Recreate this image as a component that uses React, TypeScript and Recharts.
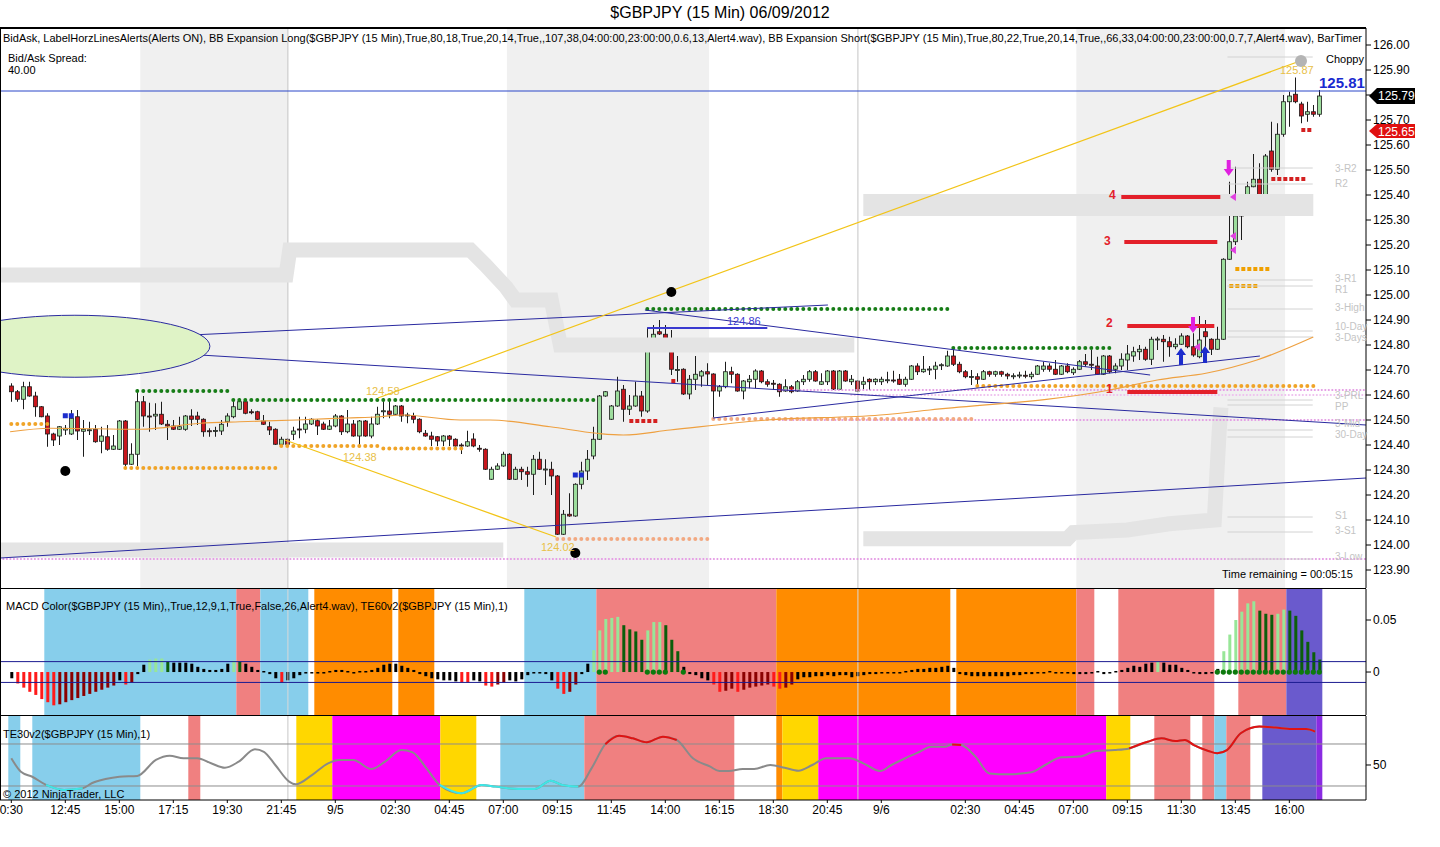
import React from "react";
import {
  ComposedChart,
  Bar,
  Line,
  Scatter,
  XAxis,
  YAxis,
  ReferenceArea,
  ReferenceLine,
} from "recharts";

const FONT = '"Liberation Sans", Arial, Helvetica, sans-serif';
const X_DOMAIN: [number, number] = [-1.883, 225.78];

// 15 min OHLC, one entry per bar (index = bar position)
const opens = [
  124.636, 124.613, 124.583, 124.633, 124.596, 124.553, 124.516, 124.444, 124.436, 124.46,
  124.444, 124.513, 124.455, 124.46, 124.463, 124.415, 124.433, 124.383, 124.383, 124.496,
  124.323, 124.363, 124.573, 124.516, 124.516, 124.523, 124.483, 124.476, 124.463, 124.463,
  124.516, 124.516, 124.503, 124.457, 124.457, 124.456, 124.493, 124.513, 124.543, 124.573,
  124.533, 124.533, 124.496, 124.473, 124.463, 124.403, 124.423, 124.443, 124.464, 124.463,
  124.484, 124.497, 124.484, 124.463, 124.476, 124.516, 124.453, 124.484, 124.436, 124.496,
  124.436, 124.484, 124.536, 124.536, 124.523, 124.556, 124.52, 124.516, 124.503, 124.447,
  124.436, 124.433, 124.416, 124.436, 124.423, 124.4, 124.396, 124.424, 124.387, 124.383,
  124.263, 124.303, 124.316, 124.363, 124.263, 124.303, 124.293, 124.283, 124.343, 124.303,
  124.303, 124.276, 124.043, 124.123, 124.116, 124.243, 124.296, 124.356, 124.423, 124.596,
  124.503, 124.556, 124.623, 124.543, 124.556, 124.596, 124.536, 124.823, 124.853, 124.843,
  124.823, 124.7, 124.703, 124.604, 124.663, 124.676, 124.693, 124.684, 124.616, 124.633,
  124.693, 124.683, 124.616, 124.653, 124.663, 124.696, 124.653, 124.647, 124.643, 124.616,
  124.633, 124.616, 124.653, 124.663, 124.693, 124.643, 124.653, 124.696, 124.623, 124.696,
  124.653, 124.656, 124.643, 124.663, 124.653, 124.653, 124.66, 124.66, 124.663, 124.643,
  124.663, 124.716, 124.693, 124.703, 124.703, 124.72, 124.716, 124.756, 124.723, 124.693,
  124.673, 124.673, 124.663, 124.693, 124.683, 124.693, 124.683, 124.676, 124.679, 124.679,
  124.673, 124.683, 124.703, 124.716, 124.703, 124.683, 124.716, 124.689, 124.703, 124.733,
  124.723, 124.716, 124.683, 124.756, 124.703, 124.716, 124.74, 124.756, 124.773, 124.783,
  124.743, 124.823, 124.823, 124.813, 124.793, 124.803, 124.836, 124.793, 124.753, 124.853,
  124.823, 124.783, 124.823, 125.143, 125.213, 125.316, 125.343, 125.433, 125.463, 125.373,
  125.576, 125.503, 125.643, 125.773, 125.803, 125.764, 125.723, 125.733, 125.723,
];
const highs = [
  124.647, 124.62, 124.653, 124.653, 124.613, 124.556, 124.527, 124.449, 124.476, 124.48,
  124.54, 124.54, 124.5, 124.493, 124.48, 124.473, 124.48, 124.44, 124.5, 124.5,
  124.407, 124.623, 124.596, 124.569, 124.567, 124.573, 124.5, 124.5, 124.513, 124.52,
  124.543, 124.533, 124.507, 124.467, 124.473, 124.5, 124.527, 124.583, 124.587, 124.58,
  124.543, 124.537, 124.52, 124.493, 124.467, 124.433, 124.427, 124.473, 124.513, 124.513,
  124.507, 124.503, 124.493, 124.5, 124.524, 124.52, 124.54, 124.5, 124.5, 124.5,
  124.513, 124.553, 124.587, 124.587, 124.56, 124.56, 124.529, 124.529, 124.507, 124.46,
  124.453, 124.436, 124.44, 124.44, 124.427, 124.407, 124.457, 124.447, 124.4, 124.387,
  124.313, 124.327, 124.373, 124.367, 124.313, 124.313, 124.313, 124.36, 124.373, 124.343,
  124.333, 124.28, 124.14, 124.207, 124.247, 124.333, 124.38, 124.473, 124.6, 124.616,
  124.56, 124.673, 124.64, 124.6, 124.653, 124.616, 124.87, 124.88, 124.9, 124.88,
  124.86, 124.756, 124.707, 124.68, 124.756, 124.7, 124.727, 124.687, 124.64, 124.733,
  124.713, 124.687, 124.66, 124.68, 124.703, 124.7, 124.663, 124.66, 124.647, 124.663,
  124.64, 124.66, 124.68, 124.7, 124.7, 124.687, 124.7, 124.7, 124.7, 124.7,
  124.68, 124.66, 124.673, 124.667, 124.667, 124.673, 124.693, 124.697, 124.684, 124.673,
  124.72, 124.727, 124.756, 124.716, 124.733, 124.727, 124.777, 124.787, 124.733, 124.7,
  124.7, 124.687, 124.7, 124.697, 124.697, 124.697, 124.689, 124.687, 124.693, 124.697,
  124.693, 124.72, 124.733, 124.727, 124.74, 124.72, 124.727, 124.711, 124.74, 124.764,
  124.78, 124.753, 124.76, 124.76, 124.727, 124.767, 124.8, 124.793, 124.8, 124.793,
  124.833, 124.833, 124.84, 124.833, 124.827, 124.847, 124.84, 124.847, 124.916, 124.9,
  124.827, 124.873, 125.147, 125.453, 125.513, 125.373, 125.453, 125.564, 125.527, 125.564,
  125.693, 125.687, 125.8, 125.813, 125.87, 125.773, 125.773, 125.76, 125.82,
];
const lows = [
  124.573, 124.573, 124.543, 124.593, 124.513, 124.511, 124.393, 124.396, 124.4, 124.44,
  124.44, 124.42, 124.353, 124.44, 124.409, 124.367, 124.377, 124.38, 124.38, 124.313,
  124.32, 124.316, 124.473, 124.453, 124.46, 124.48, 124.42, 124.46, 124.46, 124.457,
  124.476, 124.48, 124.433, 124.433, 124.433, 124.44, 124.473, 124.507, 124.54, 124.523,
  124.523, 124.5, 124.48, 124.44, 124.4, 124.4, 124.4, 124.42, 124.427, 124.447,
  124.48, 124.44, 124.46, 124.46, 124.471, 124.44, 124.447, 124.433, 124.393, 124.433,
  124.427, 124.48, 124.507, 124.507, 124.52, 124.493, 124.487, 124.487, 124.447, 124.433,
  124.396, 124.396, 124.396, 124.396, 124.393, 124.364, 124.393, 124.391, 124.373, 124.3,
  124.26, 124.3, 124.313, 124.26, 124.26, 124.26, 124.233, 124.2, 124.3, 124.24,
  124.2, 124.04, 124.04, 124.113, 124.113, 124.223, 124.26, 124.343, 124.42, 124.593,
  124.5, 124.553, 124.493, 124.52, 124.553, 124.513, 124.529, 124.78, 124.84, 124.82,
  124.68, 124.653, 124.6, 124.583, 124.62, 124.633, 124.64, 124.507, 124.593, 124.627,
  124.647, 124.613, 124.583, 124.627, 124.627, 124.647, 124.633, 124.62, 124.593, 124.613,
  124.607, 124.613, 124.64, 124.653, 124.653, 124.64, 124.64, 124.62, 124.62, 124.653,
  124.64, 124.613, 124.62, 124.62, 124.64, 124.64, 124.647, 124.649, 124.64, 124.633,
  124.66, 124.68, 124.689, 124.68, 124.663, 124.7, 124.713, 124.716, 124.687, 124.667,
  124.64, 124.64, 124.66, 124.673, 124.673, 124.673, 124.663, 124.663, 124.667, 124.667,
  124.663, 124.68, 124.693, 124.693, 124.68, 124.68, 124.687, 124.68, 124.7, 124.713,
  124.7, 124.68, 124.68, 124.687, 124.687, 124.7, 124.7, 124.733, 124.74, 124.737,
  124.72, 124.78, 124.733, 124.753, 124.783, 124.8, 124.787, 124.753, 124.747, 124.793,
  124.76, 124.78, 124.82, 125.14, 125.2, 125.22, 125.34, 125.431, 125.36, 125.333,
  125.493, 125.48, 125.633, 125.673, 125.767, 125.687, 125.693, 125.713, 125.713,
];
const closes = [
  124.613, 124.583, 124.633, 124.596, 124.553, 124.513, 124.444, 124.42, 124.473, 124.467,
  124.507, 124.456, 124.463, 124.461, 124.413, 124.436, 124.383, 124.396, 124.496, 124.323,
  124.363, 124.573, 124.516, 124.515, 124.523, 124.484, 124.476, 124.463, 124.473, 124.516,
  124.503, 124.503, 124.453, 124.456, 124.458, 124.483, 124.516, 124.553, 124.573, 124.527,
  124.532, 124.503, 124.483, 124.46, 124.403, 124.423, 124.403, 124.456, 124.463, 124.484,
  124.503, 124.476, 124.463, 124.476, 124.516, 124.453, 124.484, 124.436, 124.496, 124.436,
  124.484, 124.523, 124.537, 124.523, 124.556, 124.516, 124.516, 124.503, 124.453, 124.436,
  124.423, 124.416, 124.436, 124.423, 124.396, 124.399, 124.413, 124.396, 124.386, 124.303,
  124.303, 124.316, 124.363, 124.263, 124.303, 124.293, 124.283, 124.343, 124.303, 124.304,
  124.276, 124.043, 124.123, 124.116, 124.243, 124.296, 124.343, 124.423, 124.596, 124.613,
  124.556, 124.616, 124.543, 124.556, 124.596, 124.536, 124.823, 124.843, 124.844, 124.823,
  124.703, 124.702, 124.604, 124.663, 124.683, 124.693, 124.684, 124.616, 124.633, 124.693,
  124.683, 124.616, 124.656, 124.663, 124.696, 124.653, 124.643, 124.646, 124.613, 124.633,
  124.613, 124.653, 124.663, 124.693, 124.656, 124.653, 124.696, 124.623, 124.696, 124.656,
  124.663, 124.616, 124.653, 124.653, 124.663, 124.663, 124.661, 124.659, 124.643, 124.663,
  124.716, 124.693, 124.703, 124.704, 124.716, 124.721, 124.756, 124.723, 124.693, 124.673,
  124.674, 124.663, 124.693, 124.683, 124.693, 124.683, 124.676, 124.677, 124.68, 124.678,
  124.683, 124.716, 124.716, 124.703, 124.683, 124.716, 124.693, 124.703, 124.733, 124.723,
  124.72, 124.683, 124.756, 124.693, 124.716, 124.743, 124.764, 124.773, 124.783, 124.743,
  124.823, 124.824, 124.813, 124.793, 124.803, 124.836, 124.793, 124.76, 124.82, 124.833,
  124.783, 124.823, 125.143, 125.213, 125.316, 125.343, 125.433, 125.463, 125.383, 125.556,
  125.503, 125.643, 125.773, 125.796, 125.773, 125.716, 125.733, 125.723, 125.796,
];

// MACD histogram per bar
const macd = [
  -0.006, -0.011, -0.015, -0.019, -0.022, -0.026, -0.029, -0.032, -0.031, -0.029,
  -0.027, -0.025, -0.023, -0.021, -0.019, -0.017, -0.015, -0.013, -0.008, -0.012,
  -0.01, -0.002, 0.007, 0.012, 0.013, 0.013, 0.01, 0.009, 0.009, 0.009,
  0.008, 0.005, 0.003, 0.002, 0.002, 0.003, 0.008, 0.011, 0.01, 0.008,
  0.005, 0.002, 0.001, -0.002, -0.006, -0.01, -0.008, -0.006, -0.003, -0.001,
  -0.001, -0.001, -0.001, 0.001, 0.002, 0.002, 0.001, -0.001, 0.001, 0.001,
  0.002, 0.004, 0.007, 0.008, 0.008, 0.006, 0.004, 0.002, -0.002, -0.004,
  -0.006, -0.007, -0.008, -0.008, -0.009, -0.01, -0.01, -0.008, -0.009, -0.013,
  -0.014, -0.012, -0.01, -0.008, -0.009, -0.007, -0.003, -0.001, -0.001, -0.002,
  -0.008, -0.016, -0.021, -0.019, -0.012, -0.002, 0.008, 0.021, 0.04, 0.051,
  0.052, 0.053, 0.045, 0.041, 0.039, 0.031, 0.04, 0.048, 0.048, 0.045,
  0.031, 0.02, 0.005, -0.002, -0.003, -0.006, -0.008, -0.012, -0.019, -0.018,
  -0.016, -0.019, -0.017, -0.015, -0.014, -0.013, -0.012, -0.014, -0.016, -0.015,
  -0.012, -0.007, -0.005, -0.005, -0.004, -0.004, -0.003, -0.004, -0.003, -0.003,
  -0.005, -0.004, -0.003, -0.002, -0.002, -0.001, -0.001, -0.001, -0.001, 0.001,
  0.002, 0.003, 0.003, 0.004, 0.004, 0.005, 0.006, 0.004, -0.002, -0.003,
  -0.004, -0.004, -0.004, -0.004, -0.004, -0.004, -0.004, -0.003, -0.003, -0.002,
  -0.002, -0.001, -0.001, 0.001, -0.001, -0.001, -0.001, -0.002, -0.002, -0.002,
  -0.001, 0.001, -0.002, -0.001, 0.001, 0.002, 0.004, 0.006, 0.005, 0.008,
  0.009, 0.01, 0.009, 0.007, 0.007, 0.004, 0.002, -0.001, -0.002, -0.002,
  -0.001, 0.003, 0.02, 0.036, 0.05, 0.058, 0.066, 0.068, 0.059, 0.056,
  0.055, 0.056, 0.06, 0.059, 0.054, 0.04, 0.029, 0.019, 0.012,
];
const macdDots = [98, 99, 106, 107, 108, 109, 112, 201, 202, 203, 204, 205, 206, 207, 208, 209, 210, 211, 212, 213, 214, 215, 216, 217, 218];

// TE30 oscillator, read at points along the curve [bar, value]
const tePoints: [number, number][] = [
  [0, 53.2], [1.6, 46.8], [3.5, 44.4], [5.8, 40.5], [6.5, 39.7], [8.8, 38.1], [11.9, 38.9], [13.4, 41.3],
  [15.7, 43.3], [18, 44.4], [21, 44.8], [24.1, 52.4], [26.4, 54.4], [28.7, 53.2], [31, 53.2], [33.3, 50.8],
  [35.6, 48.7], [37.9, 51.6], [40.6, 57.5], [42.1, 56.3], [44, 50], [46.3, 42.1], [47.4, 40.8], [50.1, 45.2],
  [52.8, 50.8], [54.7, 52.4], [57, 52.4], [60, 48.1], [62.3, 51.6], [65, 57.1], [66.9, 56], [69.2, 48.4],
  [71.4, 40.5], [75, 36.5], [78.4, 40.5], [80.7, 39.7], [84.5, 38.6], [87.2, 38.6], [89.9, 42.5], [91.8, 40.5],
  [94.5, 39.7], [96.7, 48.4], [99, 59.9], [101.3, 63.9], [103.6, 62.7], [105.9, 60.8], [108.6, 63.5], [110.9, 61.9],
  [113.6, 53.2], [116.5, 49.2], [118, 47.1], [119.6, 47.1], [121.9, 48.1], [123.8, 48.1], [126.5, 50], [128.9, 48.7],
  [131.2, 47.3], [133.5, 50], [135.8, 53.2], [139.7, 53.2], [142, 50.8], [144.8, 47.1], [146.7, 50], [149, 53.2],
  [151.4, 56.3], [153.3, 58.7], [155.6, 58.7], [156.8, 59.8], [158.3, 59.5], [160.7, 54], [163, 46], [166.1, 45.6],
  [170, 46.5], [172.3, 50], [175, 53.7], [178.1, 54], [180.8, 56.7], [183.9, 57.1], [186.3, 57.9], [189.4, 61.1],
  [191.7, 62.7], [194, 61.4], [195.6, 61.9], [197.1, 59.5], [199.5, 56.7], [201, 55.6], [202.6, 57.1], [204.9, 65.1],
  [208, 68.3], [210.7, 67.8], [213.4, 67.1], [215.8, 67.1], [217.3, 65.9],
];
const teRed: [number, number][] = [[99, 111], [156.5, 158.5], [186, 218]];
const teCyan: [number, number][] = [[5.5, 13], [71, 95]];

// orange moving average, read at points [bar, price]
const maPoints: [number, number][] = [
  [-0.2, 124.453], [6.5, 124.467], [21.5, 124.463], [31.5, 124.487], [38.1, 124.493], [47.6, 124.5],
  [55.9, 124.508], [61.4, 124.513], [65.3, 124.52], [74.8, 124.5], [79.8, 124.5], [89.8, 124.473],
  [97.6, 124.447], [102, 124.44], [109.8, 124.46], [126, 124.5], [144.8, 124.52], [153.1, 124.54],
  [183.1, 124.62], [191, 124.66], [199.3, 124.688], [207.6, 124.74], [217, 124.832],
];
// yellow swing lines [bar1, price1, bar2, price2]: lows line and highs line
const yellowLines: [number, number, number, number][] = [
  [45.6, 124.42, 90.8, 124.032],
  [61.1, 124.588, 214.1, 125.93],
];

// stepped gray envelopes [bar, price]
const grayUpper: [number, number][] = [
  [-1.9, 125.08], [45.8, 125.08], [46.4, 125.18], [76.5, 125.18], [79, 125.12], [82.5, 125.03], [84, 124.98],
  [90, 124.98], [91.5, 124.8], [140.5, 124.8],
];
const grayZone: [number, number][] = [[142, 125.36], [217, 125.36]];
const grayLowerA: [number, number][] = [[-1.9, 123.98], [82, 123.98]];
const grayLowerB: [number, number][] = [
  [142, 124.025], [176, 124.025], [177, 124.05], [186, 124.06], [193, 124.085],
  [200.5, 124.1], [201.3, 124.45], [201.6, 124.55],
];

// trend lines [bar1, price1, bar2, price2]
const trendLines: [number, number, number, number][] = [
  [-1.88, 124.804, 136.1, 124.96],
  [-1.88, 124.808, 225.8, 124.48],
  [-1.88, 123.948, 225.8, 124.268],
  [105.6, 124.94, 189.8, 124.68],
  [116.95, 124.508, 208.1, 124.756],
];

// dotted levels [price, fromBar, toBar, color, kind]
type Level = [number, number, number, string, "dot" | "sq" | "fine"];
const levels: Level[] = [
  [123.944, -1.9, 225.8, "#e49be4", "fine"],
  [124.62, 128, 225.8, "#e49be4", "fine"],
  [124.6, 140, 225.8, "#eec0ee", "fine"],
  [124.5, 128, 225.8, "#e49be4", "fine"],
  [124.796, 0, 20, "#177d17", "dot"],
  [124.616, 21, 36, "#177d17", "dot"],
  [124.58, 37, 97, "#177d17", "dot"],
  [124.944, 106, 156, "#177d17", "dot"],
  [124.788, 157, 183, "#177d17", "dot"],
  [124.484, 0, 6, "#f0a428", "dot"],
  [124.308, 19, 44, "#f0a428", "dot"],
  [124.396, 45, 61, "#f0a428", "dot"],
  [124.386, 62, 75, "#f0a428", "dot"],
  [124.636, 161, 217, "#f0a428", "dot"],
  [124.024, 91, 116, "#f2a982", "dot"],
  [124.504, 117, 160, "#f2a982", "dot"],
  [125.104, 204, 210, "#f0a000", "sq"],
  [125.036, 203, 208, "#f0a000", "sq"],
  [124.496, 103, 108, "#d42020", "sq"],
  [124.656, 110, 111, "#d42020", "sq"],
  [125.464, 210, 216, "#d42020", "sq"],
  [125.66, 215, 217, "#d42020", "sq"],
];

// target lines [price, fromBar, toBar, label]
const targets: [number, number, number, string][] = [
  [125.392, 185, 201.5, "4"],
  [125.212, 185.5, 201, "3"],
  [124.876, 186, 200.5, "2"],
  [124.612, 186, 201, "1"],
];

// pivot levels at the right [price, label, label top]
const pivots: [number, string, number][] = [
  [125.952, "", 0], [125.508, "3-R2", 164], [125.444, "R2", 179], [125.06, "3-R1", 274], [125.036, "R1", 285],
  [124.944, "3-High", 303], [124.856, "10-Day", 322], [124.832, "3-Days", 333], [124.58, "3-PRL", 391],
  [124.56, "PP", 402], [124.46, "3-Mid", 419], [124.432, "30-Day", 430], [124.112, "S1", 511],
  [124.052, "3-S1", 526], [123.944, "3-Low", 552],
];

const sessionBands: [number, number][] = [[21.5, 46.1], [82.6, 116.3], [177.5, 212.3]];
const sessionLines = [46.1, 141.1];

const macdBands: [number, number, string][] = [
  [-1.9, 5.5, "#f08080"], [5.5, 37.5, "#87ceeb"], [37.5, 41.5, "#f08080"], [41.5, 49.5, "#87ceeb"],
  [50.5, 63.5, "#ff8c00"], [64.5, 70.5, "#ff8c00"], [85.5, 97.5, "#87ceeb"], [97.5, 127.5, "#f08080"],
  [127.5, 156.5, "#ff8c00"], [157.5, 177.5, "#ff8c00"], [177.5, 180.5, "#f08080"], [184.5, 200.5, "#f08080"],
  [204.5, 212.5, "#f08080"], [212.5, 218.5, "#6a5acd"],
];
const teBands: [number, number, string][] = [
  [-0.5, 1.5, "#87ceeb"], [3.5, 21.5, "#87ceeb"], [29.5, 31.5, "#f08080"], [47.5, 53.5, "#ffd700"],
  [53.5, 71.5, "#ff00ff"], [71.5, 77.5, "#ffd700"], [81.5, 95.5, "#87ceeb"], [95.5, 120.5, "#f08080"],
  [127.5, 128.5, "#ff8c00"], [128.5, 134.5, "#ffd700"], [134.5, 182.5, "#ff00ff"], [182.5, 186.5, "#ffd700"],
  [190.5, 196.5, "#f08080"], [198.5, 200.5, "#f08080"], [200.5, 202.5, "#87ceeb"], [202.5, 206.5, "#f08080"],
  [208.5, 217.5, "#6a5acd"], [217.5, 218.5, "#8a2be2"],
];

const blackDots: [number, number][] = [[9, 124.296], [110, 125.012], [94, 123.968]];
const blueSquares: [number, number][] = [[9, 124.517], [10, 124.517], [94, 124.28], [95, 124.28]];
const upArrows: [number, number][] = [[194.95, 124.788], [198.95, 124.796]];
const downArrows: [number, number][] = [[202.9, 125.476], [196.95, 124.848]];
const leftTicks: [number, number][] = [[203.6, 125.392], [203.6, 125.236], [203.6, 125.18], [197.6, 124.792]];

const priceTicks = [123.9, 124, 124.1, 124.2, 124.3, 124.4, 124.5, 124.6, 124.7, 124.8, 124.9, 125, 125.1, 125.2, 125.3, 125.4, 125.5, 125.6, 125.7, 125.8, 125.9, 126];
const timeTicks = [0, 9, 18, 27, 36, 45, 54, 64, 73, 82, 91, 100, 109, 118, 127, 136, 145, 159, 168, 177, 186, 195, 204, 213];
const timeLabels = ["0:30", "12:45", "15:00", "17:15", "19:30", "21:45", "9/5", "02:30", "04:45", "07:00", "09:15", "11:45", "14:00", "16:15", "18:30", "20:45", "9/6", "02:30", "04:45", "07:00", "09:15", "11:30", "13:45", "16:00"];

const bars = opens.map((o, i) => ({ i, o, hi: highs[i], lo: lows[i], c: closes[i], range: [lows[i], highs[i]] }));
const macdData = macd.map((v, i) => {
  const prev = i > 0 ? macd[i - 1] : v;
  let fill = "#000";
  if (Math.abs(v) >= 0.0095) fill = v > 0 ? (v >= prev ? "#98e698" : "#0b5e0b") : v <= prev ? "#ff1a1a" : "#8b0000";
  return { i, v, fill };
});
const pts = (a: [number, number][]) => a.map(([i, p]) => ({ i, p }));

function Candle(props: any) {
  const { x, y, width, height, payload } = props;
  if (x == null || !payload) return null;
  const top = Math.min(y, y + height);
  const h = Math.abs(height);
  const { o, hi, lo, c } = payload;
  const k = hi - lo > 0 ? h / (hi - lo) : 0;
  const yo = top + (hi - o) * k;
  const yc = top + (hi - c) * k;
  const cx = Math.round(x + width / 2) + 0.5;
  const bt = Math.min(yo, yc);
  const bh = Math.max(Math.abs(yc - yo), 1);
  return (
    <g>
      <line x1={cx} x2={cx} y1={top} y2={top + h} stroke="#1c1c1c" strokeWidth={1} />
      <rect x={cx - 2} y={bt} width={4} height={bh} fill={c >= o ? "#9ddd9d" : "#c8161d"} stroke="#1c1c1c" strokeWidth={0.8} />
    </g>
  );
}

function MacdBar(props: any) {
  const { x, y, width, height, payload } = props;
  if (x == null || !payload) return null;
  const top = Math.min(y, y + height);
  const h = Math.max(Math.abs(height), 1.5);
  const cx = x + width / 2;
  return <rect x={cx - 1.5} y={top} width={3} height={h} fill={payload.fill} />;
}

const Txt = ({ x, y, children, style }: any) => (
  <div style={{ position: "absolute", left: x, top: y, fontFamily: FONT, fontSize: 11, whiteSpace: "nowrap", lineHeight: 1, ...style }}>
    {children}
  </div>
);

const hideX = <XAxis type="number" dataKey="i" domain={X_DOMAIN} allowDataOverflow hide />;
const flat = { dot: false, activeDot: false, isAnimationActive: false } as const;

export default function App() {
  const tickStyle = { fontSize: 12, fill: "#000", fontFamily: FONT };
  return (
    <div style={{ position: "relative", width: 1440, height: 847, background: "#fff", overflow: "hidden", fontFamily: FONT }}>
      <style>{"body{margin:0}"}</style>

      {/* price panel */}
      <div style={{ position: "absolute", left: 0, top: 28 }}>
        <ComposedChart width={1440} height={560} data={bars} margin={{ top: 0, right: 0, bottom: 0, left: 0 }}>
          {hideX}
          <YAxis
            orientation="right"
            width={74}
            domain={[123.828, 126.068]}
            allowDataOverflow
            ticks={priceTicks}
            interval={0}
            tickFormatter={(v: number) => (Math.abs(v - 125.8) < 0.001 ? "" : v.toFixed(2))}
            tick={tickStyle}
            tickSize={5}
            axisLine={{ stroke: "#000" }}
            tickLine={{ stroke: "#000" }}
          />
          {sessionBands.map(([a, b], k) => (
            <ReferenceArea key={"sb" + k} x1={a} x2={b} fill="#f0f0f0" fillOpacity={1} stroke="none" />
          ))}
          {sessionLines.map((v) => (
            <ReferenceLine key={"sl" + v} x={v} stroke="#c4c4c4" />
          ))}
          <Line data={pts(grayUpper)} dataKey="p" stroke="#e4e4e4" strokeWidth={15} {...flat} />
          <Line data={pts(grayZone)} dataKey="p" stroke="#e4e4e4" strokeWidth={22} {...flat} />
          <Line data={pts(grayLowerA)} dataKey="p" stroke="#e4e4e4" strokeWidth={15} {...flat} />
          <Line data={pts(grayLowerB)} dataKey="p" stroke="#e4e4e4" strokeWidth={15} {...flat} />
          <Scatter
            data={[{ i: 10.6, p: 124.795 }]}
            dataKey="p"
            isAnimationActive={false}
            shape={(p: any) => <ellipse cx={p.cx} cy={p.cy} rx={135} ry={31} fill="#dff3c6" stroke="#2a2aa0" strokeWidth={1} />}
          />
          {levels.map(([p, a, b, col, kind], k) => (
            <Line
              key={"lv" + k}
              data={[{ i: a, p }, { i: b, p }]}
              dataKey="p"
              stroke={col}
              strokeWidth={kind === "fine" ? 2.2 : 4}
              strokeDasharray={kind === "sq" ? "4 2" : kind === "fine" ? "0 3.5" : "0 6"}
              strokeLinecap={kind === "sq" ? "butt" : "round"}
              {...flat}
            />
          ))}
          {pivots.map(([p], k) => (
            <ReferenceLine key={"pv" + k} segment={[{ x: 202.7, y: p }, { x: 216.9, y: p }]} stroke="#d2d2d2" />
          ))}
          <ReferenceLine y={125.816} stroke="#2a46c8" />
          <ReferenceLine segment={[{ x: 219.9, y: 125.79 }, { x: 225.8, y: 125.79 }]} stroke="#c81010" />
          {trendLines.map(([a, p1, b, p2], k) => (
            <Line key={"tl" + k} data={[{ i: a, p: p1 }, { i: b, p: p2 }]} dataKey="p" stroke="#2a2aa0" strokeWidth={1} {...flat} />
          ))}
          <Line data={[{ i: 106, p: 124.868 }, { i: 126, p: 124.868 }]} dataKey="p" stroke="#3a3ad0" strokeWidth={2} {...flat} />
          <Line data={pts(maPoints)} dataKey="p" type="monotone" stroke="#eea040" strokeWidth={1.2} {...flat} />
          {yellowLines.map(([a, p1, b, p2], k) => (
            <Line key={"yl" + k} data={[{ i: a, p: p1 }, { i: b, p: p2 }]} dataKey="p" stroke="#f2c418" strokeWidth={1.2} {...flat} />
          ))}
          {targets.map(([p, a, b], k) => (
            <Line key={"tg" + k} data={[{ i: a, p }, { i: b, p }]} dataKey="p" stroke="#e3202a" strokeWidth={4} {...flat} />
          ))}
          <Bar dataKey="range" barSize={5} shape={Candle} isAnimationActive={false} />
          <Scatter data={pts(blackDots)} dataKey="p" isAnimationActive={false} shape={(p: any) => <circle cx={p.cx} cy={p.cy} r={5} fill="#000" />} />
          <Scatter data={pts(blueSquares)} dataKey="p" isAnimationActive={false} shape={(p: any) => <rect x={p.cx - 2.5} y={p.cy - 2.5} width={5} height={5} fill="#1c2ccc" />} />
          <Scatter
            data={pts(upArrows)}
            dataKey="p"
            isAnimationActive={false}
            shape={(p: any) => (
              <polygon
                points={`${p.cx},${p.cy} ${p.cx - 5},${p.cy + 7} ${p.cx - 2},${p.cy + 7} ${p.cx - 2},${p.cy + 17} ${p.cx + 2},${p.cy + 17} ${p.cx + 2},${p.cy + 7} ${p.cx + 5},${p.cy + 7}`}
                fill="#1c2ccc"
              />
            )}
          />
          <Scatter
            data={pts(downArrows)}
            dataKey="p"
            isAnimationActive={false}
            shape={(p: any) => (
              <polygon
                points={`${p.cx},${p.cy} ${p.cx - 5},${p.cy - 7} ${p.cx - 2},${p.cy - 7} ${p.cx - 2},${p.cy - 16} ${p.cx + 2},${p.cy - 16} ${p.cx + 2},${p.cy - 7} ${p.cx + 5},${p.cy - 7}`}
                fill="#e020e0"
              />
            )}
          />
          <Scatter
            data={pts(leftTicks)}
            dataKey="p"
            isAnimationActive={false}
            shape={(p: any) => <polygon points={`${p.cx - 3},${p.cy} ${p.cx + 3},${p.cy - 4} ${p.cx + 3},${p.cy + 4}`} fill="#e040e0" />}
          />
          <Scatter data={[{ i: 214.95, p: 125.936 }]} dataKey="p" isAnimationActive={false} shape={(p: any) => <circle cx={p.cx} cy={p.cy} r={6} fill="#b4b4b4" />} />
        </ComposedChart>
      </div>

      {/* MACD panel */}
      <div style={{ position: "absolute", left: 0, top: 589 }}>
        <ComposedChart width={1440} height={126} data={macdData} margin={{ top: 0, right: 0, bottom: 0, left: 0 }}>
          {hideX}
          <YAxis
            orientation="right"
            width={74}
            domain={[-0.0413, 0.0798]}
            allowDataOverflow
            ticks={[0, 0.05]}
            tickFormatter={(v: number) => (v === 0 ? "0" : v.toFixed(2))}
            tick={tickStyle}
            tickSize={5}
            axisLine={{ stroke: "#000" }}
            tickLine={{ stroke: "#000" }}
          />
          {macdBands.map(([a, b, col], k) => (
            <ReferenceArea key={"mb" + k} x1={a} x2={b} fill={col} fillOpacity={1} stroke="none" />
          ))}
          {sessionLines.map((v) => (
            <ReferenceLine key={"ml" + v} x={v} stroke="#d8d8d8" />
          ))}
          <ReferenceLine y={0.01} stroke="#1a1a90" />
          <ReferenceLine y={-0.01} stroke="#1a1a90" />
          <Bar dataKey="v" barSize={3} shape={MacdBar} isAnimationActive={false} />
          <Scatter
            data={macdDots.map((i) => ({ i, v: 0 }))}
            dataKey="v"
            isAnimationActive={false}
            shape={(p: any) => <circle cx={p.cx} cy={p.cy} r={2.6} fill="#0d7a0d" />}
          />
        </ComposedChart>
      </div>

      {/* TE30 panel with time axis */}
      <div style={{ position: "absolute", left: 0, top: 716 }}>
        <ComposedChart width={1440} height={114} margin={{ top: 0, right: 0, bottom: 0, left: 0 }}>
          <XAxis
            type="number"
            dataKey="i"
            domain={X_DOMAIN}
            allowDataOverflow
            ticks={timeTicks}
            interval={0}
            height={30}
            tickFormatter={(v: number) => timeLabels[timeTicks.indexOf(v)] ?? ""}
            tick={tickStyle}
            tickSize={3}
            axisLine={{ stroke: "#000" }}
            tickLine={{ stroke: "#000" }}
          />
          <YAxis
            orientation="right"
            width={74}
            domain={[33.33, 73.33]}
            allowDataOverflow
            ticks={[50]}
            tick={tickStyle}
            tickSize={5}
            axisLine={{ stroke: "#000" }}
            tickLine={{ stroke: "#000" }}
          />
          {teBands.map(([a, b, col], k) => (
            <ReferenceArea key={"tb" + k} x1={a} x2={b} fill={col} fillOpacity={1} stroke="none" />
          ))}
          {sessionLines.map((v) => (
            <ReferenceLine key={"tsl" + v} x={v} stroke="#c8c8c8" />
          ))}
          <ReferenceLine y={60} stroke="#8c8c8c" />
          <ReferenceLine y={40} stroke="#8c8c8c" />
          <Line data={pts(tePoints)} dataKey="p" type="monotone" stroke="#8a8a8a" strokeWidth={2} {...flat} />
          {teRed.map(([a, b], k) => (
            <Line key={"tr" + k} data={pts(tePoints.filter(([i]) => i >= a && i <= b))} dataKey="p" type="monotone" stroke="#e01212" strokeWidth={2} {...flat} />
          ))}
          {teCyan.map(([a, b], k) => (
            <Line key={"tc" + k} data={pts(tePoints.filter(([i]) => i >= a && i <= b))} dataKey="p" type="monotone" stroke="#3ee6e6" strokeWidth={2} {...flat} />
          ))}
        </ComposedChart>
      </div>

      {/* frame */}
      <div style={{ position: "absolute", left: 0, top: 27, width: 1366, height: 2, background: "#000" }} />
      <div style={{ position: "absolute", left: 0, top: 588, width: 1366, height: 1, background: "#000" }} />
      <div style={{ position: "absolute", left: 0, top: 715, width: 1366, height: 1, background: "#000" }} />
      <div style={{ position: "absolute", left: 0, top: 27, width: 1, height: 773, background: "#000" }} />

      {/* texts */}
      <Txt x={0} y={5} style={{ width: 1440, textAlign: "center", fontSize: 16 }}>$GBPJPY (15 Min)  06/09/2012</Txt>
      <Txt x={3} y={33} style={{ width: 1362, overflow: "hidden", fontSize: 11 }}>
        BidAsk, LabelHorzLinesAlerts(Alerts ON), BB Expansion Long($GBPJPY (15 Min),True,80,18,True,20,14,True,,107,38,04:00:00,23:00:00,0.6,13,Alert4.wav), BB Expansion Short($GBPJPY (15 Min),True,80,22,True,20,14,True,,66,33,04:00:00,23:00:00,0.7,7,Alert4.wav), BarTimer
      </Txt>
      <Txt x={8} y={53}>Bid/Ask Spread:</Txt>
      <Txt x={8} y={65}>40.00</Txt>
      <Txt x={1326} y={54}>Choppy</Txt>
      <Txt x={1222} y={569}>Time remaining = 00:05:15</Txt>
      <Txt x={6} y={601}>MACD Color($GBPJPY (15 Min),,True,12,9,1,True,False,26,Alert4.wav), TE60v2($GBPJPY (15 Min),1)</Txt>
      <Txt x={3} y={729}>TE30v2($GBPJPY (15 Min),1)</Txt>
      <Txt x={3} y={789}>© 2012 NinjaTrader, LLC</Txt>
      <Txt x={366} y={386} style={{ color: "#e8c048" }}>124.58</Txt>
      <Txt x={343} y={452} style={{ color: "#e8c048" }}>124.38</Txt>
      <Txt x={541} y={542} style={{ color: "#e8c048" }}>124.02</Txt>
      <Txt x={1280} y={65} style={{ color: "#e8c048" }}>125.87</Txt>
      <Txt x={727} y={316} style={{ color: "#3a3ad0" }}>124.86</Txt>
      <Txt x={1319} y={75} style={{ color: "#1a2ad0", fontSize: 15, fontWeight: "bold" }}>125.81</Txt>
      {targets.map(([, , , lab], k) => (
        <Txt key={"tt" + k} x={[1109, 1104, 1106, 1106][k]} y={[189, 235, 317, 383][k]} style={{ color: "#e3202a", fontWeight: "bold", fontSize: 12 }}>
          {lab}
        </Txt>
      ))}
      {pivots.map(([, lab, top], k) =>
        lab ? (
          <Txt key={"pl" + k} x={1335} y={top} style={{ color: "#c4c4c4", fontSize: 10 }}>
            {lab}
          </Txt>
        ) : null
      )}
      <div style={{ position: "absolute", left: 1369, top: 88, height: 16, width: 46, background: "#000", clipPath: "polygon(0 50%, 8px 0, 100% 0, 100% 100%, 8px 100%)" }} />
      <Txt x={1378} y={90} style={{ color: "#fff", fontSize: 12 }}>125.79</Txt>
      <div style={{ position: "absolute", left: 1369, top: 124, height: 14, width: 46, background: "#e01010", clipPath: "polygon(0 50%, 8px 0, 100% 0, 100% 100%, 8px 100%)" }} />
      <Txt x={1378} y={126} style={{ color: "#fff", fontSize: 12 }}>125.65</Txt>
    </div>
  );
}
